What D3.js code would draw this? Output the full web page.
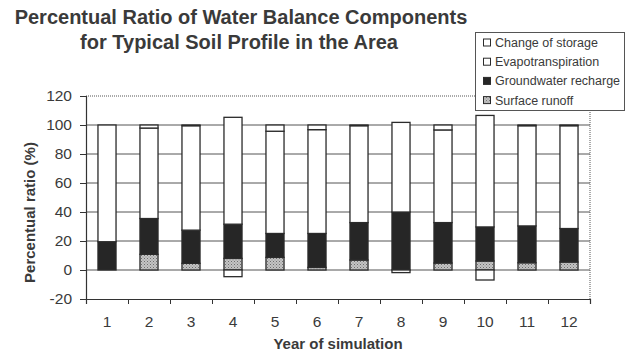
<!DOCTYPE html>
<html>
<head>
<meta charset="utf-8">
<script src="https://cdn.jsdelivr.net/npm/d3@7"></script>
<style>
  body { margin: 0; background: #fff; }
  svg { display: block; font-family: "Liberation Sans", Arial, sans-serif; }
</style>
</head>
<body>
<div id="main"></div>
<script>
// values (% of precipitation)
const years = [1, 2, 3, 4, 5, 6, 7, 8, 9, 10, 11, 12];
const surfaceRunoff = [0, 10.8, 4.6, 8, 8.7, 1.8, 6.9, 0, 4.8, 6.2, 5, 5.5];
const groundwaterRecharge = [19.5, 24.7, 22.9, 23.6, 16.5, 23.4, 25.8, 40, 27.9, 23.5, 25.4, 23.1];
const evapotranspiration = [80.5, 62.4, 72, 73.7, 70.5, 71.6, 66.8, 61.8, 63.9, 76.9, 69.1, 70.9];
const changeOfStorage = [0, 2.1, 0.5, -4.6, 4.3, 3.2, 0.5, -1.8, 3.4, -6.9, 0.5, 0.5];
const yTicks = [-20, 0, 20, 40, 60, 80, 100, 120];
const legendLabels = ["Change of storage", "Evapotranspiration", "Groundwater recharge", "Surface runoff"];

let W = 626, H = 355;
let pLeft = 86, pRight = 590, pTop = 96, pBottom = 299;
let ink = "#3a3a3a";

let rows = years.map((yr, i) => ({
	year: yr,
	runoff: surfaceRunoff[i],
	recharge: groundwaterRecharge[i],
	et: evapotranspiration[i],
	storage: changeOfStorage[i]
}));
let keys = ["runoff", "recharge", "et", "storage"];

let svg = d3.select("#main").append("svg")
	.attr("width", W)
	.attr("height", H);

let defs = svg.append("defs");
let pat = defs.append("pattern")
	.attr("id", "dots")
	.attr("width", 3).attr("height", 3)
	.attr("patternUnits", "userSpaceOnUse");
pat.append("rect").attr("width", 3).attr("height", 3).attr("fill", "#c4c4c4");
pat.append("rect").attr("x", 0).attr("y", 0).attr("width", 1).attr("height", 1).attr("fill", "#6e6e6e");
pat.append("rect").attr("x", 1.5).attr("y", 1.5).attr("width", 1).attr("height", 1).attr("fill", "#8a8a8a");

let fills = {
	runoff: "url(#dots)",
	recharge: "#262626",
	et: "#ffffff",
	storage: "#ffffff"
};

var x = d3.scaleBand()
	.domain(years)
	.range([pLeft, pRight])
	.paddingInner(0.57)
	.paddingOuter(0.285);

var xEdge = d3.scaleLinear().domain([0, years.length]).range([pLeft, pRight]);

var y = d3.scaleLinear()
	.domain([-20, 120])
	.range([pBottom, pTop]);

// grid lines 0..100
svg.append("g")
	.selectAll("line")
	.data(yTicks.filter(t => t >= 0 && t <= 100))
	.enter().append("line")
	.attr("x1", pLeft).attr("x2", pRight)
	.attr("y1", d => y(d)).attr("y2", d => y(d))
	.attr("stroke", "#555")
	.attr("stroke-width", 1);

// dotted frame top and right
svg.append("line")
	.attr("x1", pLeft).attr("x2", pRight)
	.attr("y1", y(120)).attr("y2", y(120))
	.attr("stroke", "#555").attr("stroke-dasharray", "1,1");
svg.append("line")
	.attr("x1", pRight).attr("x2", pRight)
	.attr("y1", y(120)).attr("y2", y(-20))
	.attr("stroke", "#555").attr("stroke-dasharray", "1,1");

// stacked bars
let series = d3.stack().keys(keys).offset(d3.stackOffsetDiverging)(rows);

svg.append("g")
	.selectAll("g")
	.data(series)
	.enter().append("g")
	.attr("fill", d => fills[d.key])
	.selectAll("rect")
	.data(d => d.filter(s => s[1] !== s[0]))
	.enter().append("rect")
	.attr("x", d => x(d.data.year))
	.attr("width", x.bandwidth())
	.attr("y", d => y(Math.max(d[0], d[1])))
	.attr("height", d => Math.abs(y(d[0]) - y(d[1])))
	.attr("stroke", "#2b2b2b")
	.attr("stroke-width", 1.3);

// y axis
let yAxis = svg.append("g")
	.attr("transform", "translate(" + pLeft + ",0)")
	.call(d3.axisLeft(y).tickValues(yTicks).tickSize(6).tickPadding(8).tickFormat(d => String(d)));
yAxis.select(".domain").attr("stroke", "#333").attr("stroke-width", 1.2);
yAxis.selectAll("line").attr("stroke", "#333");
yAxis.selectAll("text")
	.attr("fill", ink)
	.style("font-size", "15.5px");

// x axis: tick marks at band edges, labels at centres
let xTickAxis = svg.append("g")
	.attr("transform", "translate(0," + pBottom + ")")
	.call(d3.axisBottom(xEdge).tickValues(d3.range(years.length + 1)).tickSize(5).tickFormat(""));
xTickAxis.select(".domain").attr("stroke", "#333").attr("stroke-width", 1.2);
xTickAxis.selectAll("line").attr("stroke", "#333");

let xLab = svg.append("g")
	.attr("transform", "translate(0," + pBottom + ")")
	.call(d3.axisBottom(x).tickSize(0).tickPadding(17));
xLab.select(".domain").remove();
xLab.selectAll("text")
	.attr("fill", ink)
	.style("font-size", "15.5px");

// titles
svg.append("text")
	.attr("x", 241).attr("y", 24)
	.attr("text-anchor", "middle")
	.attr("fill", ink)
	.style("font-size", "20px").style("font-weight", "bold")
	.text("Percentual Ratio of Water Balance Components");
svg.append("text")
	.attr("x", 239).attr("y", 49)
	.attr("text-anchor", "middle")
	.attr("fill", ink)
	.style("font-size", "20px").style("font-weight", "bold")
	.text("for Typical Soil Profile in the Area");

svg.append("text")
	.attr("transform", "translate(35," + ((pTop + pBottom) / 2 + 15) + ") rotate(-90)")
	.attr("text-anchor", "middle")
	.attr("fill", ink)
	.style("font-size", "15px").style("font-weight", "bold")
	.text("Percentual ratio (%)");

svg.append("text")
	.attr("x", (pLeft + pRight) / 2).attr("y", 349)
	.attr("text-anchor", "middle")
	.attr("fill", ink)
	.style("font-size", "15px").style("font-weight", "bold")
	.text("Year of simulation");

// legend
let legendKeys = ["storage", "et", "recharge", "runoff"];
let lg = svg.append("g");
lg.append("rect")
	.attr("x", 475.5).attr("y", 32.5)
	.attr("width", 149).attr("height", 78)
	.attr("fill", "#fff")
	.attr("stroke", "#555")
	.attr("stroke-width", 1);
let item = lg.selectAll("g.item")
	.data(legendLabels)
	.enter().append("g")
	.attr("class", "item")
	.attr("transform", (d, i) => "translate(483," + (42.5 + i * 19.2) + ")");
item.append("rect")
	.attr("x", 0.5).attr("y", -3.5)
	.attr("width", 7).attr("height", 7)
	.attr("fill", (d, i) => fills[legendKeys[i]])
	.attr("stroke", "#2b2b2b");
item.append("text")
	.attr("x", 12).attr("y", 4.5)
	.attr("fill", ink)
	.style("font-size", "12.5px")
	.text(d => d);
</script>
</body>
</html>
